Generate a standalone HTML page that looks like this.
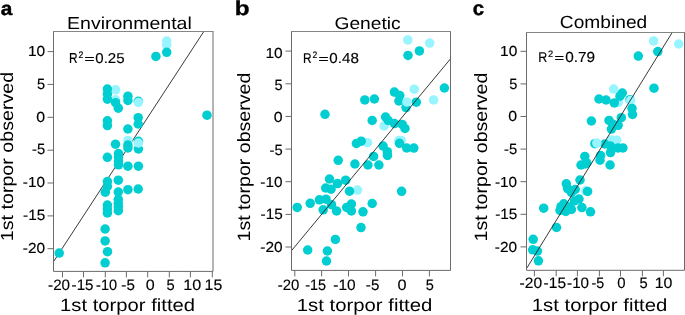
<!DOCTYPE html><html><head><meta charset="utf-8"><style>html,body{margin:0;padding:0;background:#fff;overflow:hidden}svg{display:block;will-change:transform}</style></head><body>
<svg width="685" height="315" viewBox="0 0 685 315">
<rect width="685" height="315" fill="#fff"/>
<line x1="53.5" y1="261.7" x2="203.8" y2="31.5" stroke="#222" stroke-width="0.9"/>
<circle cx="166.7" cy="41.0" r="4.75" fill="#98F5FF"/>
<circle cx="166.7" cy="45.0" r="4.75" fill="#98F5FF"/>
<circle cx="115.6" cy="89.8" r="4.75" fill="#98F5FF"/>
<circle cx="115.6" cy="99.8" r="4.75" fill="#98F5FF"/>
<circle cx="127.9" cy="140.4" r="4.75" fill="#98F5FF"/>
<circle cx="166.7" cy="52.3" r="4.75" fill="#00CED1"/>
<circle cx="155.9" cy="56.4" r="4.75" fill="#00CED1"/>
<circle cx="207.0" cy="115.2" r="4.75" fill="#00CED1"/>
<circle cx="107.4" cy="89.0" r="4.75" fill="#00CED1"/>
<circle cx="107.4" cy="94.0" r="4.75" fill="#00CED1"/>
<circle cx="107.4" cy="99.2" r="4.75" fill="#00CED1"/>
<circle cx="115.6" cy="102.7" r="4.75" fill="#00CED1"/>
<circle cx="118.3" cy="108.2" r="4.75" fill="#00CED1"/>
<circle cx="127.9" cy="96.2" r="4.75" fill="#00CED1"/>
<circle cx="127.9" cy="100.4" r="4.75" fill="#00CED1"/>
<circle cx="138.3" cy="101.3" r="4.75" fill="#00CED1"/>
<circle cx="107.4" cy="120.8" r="4.75" fill="#00CED1"/>
<circle cx="107.4" cy="125.6" r="4.75" fill="#00CED1"/>
<circle cx="138.2" cy="117.7" r="4.75" fill="#00CED1"/>
<circle cx="138.2" cy="124.0" r="4.75" fill="#00CED1"/>
<circle cx="127.9" cy="129.0" r="4.75" fill="#00CED1"/>
<circle cx="127.9" cy="145.0" r="4.75" fill="#00CED1"/>
<circle cx="127.9" cy="148.0" r="4.75" fill="#00CED1"/>
<circle cx="138.4" cy="141.3" r="4.75" fill="#00CED1"/>
<circle cx="138.4" cy="149.0" r="4.75" fill="#00CED1"/>
<circle cx="115.5" cy="144.2" r="4.75" fill="#00CED1"/>
<circle cx="118.5" cy="153.5" r="4.75" fill="#00CED1"/>
<circle cx="118.5" cy="157.0" r="4.75" fill="#00CED1"/>
<circle cx="118.5" cy="161.0" r="4.75" fill="#00CED1"/>
<circle cx="118.5" cy="164.8" r="4.75" fill="#00CED1"/>
<circle cx="107.4" cy="157.3" r="4.75" fill="#00CED1"/>
<circle cx="127.9" cy="166.2" r="4.75" fill="#00CED1"/>
<circle cx="138.4" cy="166.2" r="4.75" fill="#00CED1"/>
<circle cx="107.4" cy="181.6" r="4.75" fill="#00CED1"/>
<circle cx="107.4" cy="186.5" r="4.75" fill="#00CED1"/>
<circle cx="118.3" cy="180.2" r="4.75" fill="#00CED1"/>
<circle cx="105.3" cy="192.2" r="4.75" fill="#00CED1"/>
<circle cx="118.3" cy="192.0" r="4.75" fill="#00CED1"/>
<circle cx="127.9" cy="189.7" r="4.75" fill="#00CED1"/>
<circle cx="138.2" cy="189.0" r="4.75" fill="#00CED1"/>
<circle cx="118.3" cy="199.5" r="4.75" fill="#00CED1"/>
<circle cx="118.3" cy="203.5" r="4.75" fill="#00CED1"/>
<circle cx="118.3" cy="207.0" r="4.75" fill="#00CED1"/>
<circle cx="118.3" cy="210.7" r="4.75" fill="#00CED1"/>
<circle cx="107.4" cy="205.0" r="4.75" fill="#00CED1"/>
<circle cx="107.4" cy="209.0" r="4.75" fill="#00CED1"/>
<circle cx="107.4" cy="213.0" r="4.75" fill="#00CED1"/>
<circle cx="105.1" cy="229.0" r="4.75" fill="#00CED1"/>
<circle cx="105.1" cy="240.9" r="4.75" fill="#00CED1"/>
<circle cx="107.5" cy="251.7" r="4.75" fill="#00CED1"/>
<circle cx="105.1" cy="262.8" r="4.75" fill="#00CED1"/>
<circle cx="59.2" cy="253.1" r="4.75" fill="#00CED1"/>
<circle cx="138.4" cy="102.5" r="4.75" fill="#98F5FF"/>
<circle cx="138.4" cy="143.0" r="4.75" fill="#98F5FF"/>
<path d="M213.0,31.5V271.4H53.5V31.5" fill="none" stroke="#6b6b6b" stroke-width="1.0"/>
<path d="M53.0,31.5H213.5" fill="none" stroke="#858585" stroke-width="1.0"/>
<path d="M47.5,51.6H53.5M47.5,84.4H53.5M47.5,117.3H53.5M47.5,150.2H53.5M47.5,183.0H53.5M47.5,215.9H53.5M47.5,248.7H53.5M62.5,271.4V277.4M83.5,271.4V277.4M105.3,271.4V277.4M126.4,271.4V277.4M147.7,271.4V277.4M169.3,271.4V277.4M190.4,271.4V277.4M212.3,271.4V277.4" stroke="#6b6b6b" stroke-width="1.0"/>
<circle cx="407.8" cy="39.9" r="4.75" fill="#98F5FF"/>
<circle cx="429.7" cy="43.1" r="4.75" fill="#98F5FF"/>
<circle cx="414.2" cy="89.2" r="4.75" fill="#98F5FF"/>
<circle cx="433.6" cy="99.9" r="4.75" fill="#98F5FF"/>
<circle cx="384.1" cy="125.9" r="4.75" fill="#98F5FF"/>
<circle cx="367.5" cy="142.7" r="4.75" fill="#98F5FF"/>
<circle cx="398.8" cy="140.6" r="4.75" fill="#98F5FF"/>
<circle cx="401.2" cy="140.4" r="4.75" fill="#98F5FF"/>
<circle cx="357.5" cy="190.1" r="4.75" fill="#98F5FF"/>
<circle cx="408.0" cy="55.4" r="4.75" fill="#00CED1"/>
<circle cx="419.4" cy="50.9" r="4.75" fill="#00CED1"/>
<circle cx="444.4" cy="88.0" r="4.75" fill="#00CED1"/>
<circle cx="394.4" cy="92.1" r="4.75" fill="#00CED1"/>
<circle cx="399.8" cy="95.6" r="4.75" fill="#00CED1"/>
<circle cx="398.9" cy="101.0" r="4.75" fill="#00CED1"/>
<circle cx="416.3" cy="102.2" r="4.75" fill="#00CED1"/>
<circle cx="406.0" cy="107.6" r="4.75" fill="#00CED1"/>
<circle cx="364.8" cy="99.9" r="4.75" fill="#00CED1"/>
<circle cx="374.4" cy="99.0" r="4.75" fill="#00CED1"/>
<circle cx="325.0" cy="114.3" r="4.75" fill="#00CED1"/>
<circle cx="372.2" cy="120.5" r="4.75" fill="#00CED1"/>
<circle cx="385.6" cy="117.0" r="4.75" fill="#00CED1"/>
<circle cx="388.2" cy="120.5" r="4.75" fill="#00CED1"/>
<circle cx="394.4" cy="123.6" r="4.75" fill="#00CED1"/>
<circle cx="402.2" cy="124.4" r="4.75" fill="#00CED1"/>
<circle cx="405.0" cy="128.5" r="4.75" fill="#00CED1"/>
<circle cx="356.4" cy="143.5" r="4.75" fill="#00CED1"/>
<circle cx="361.2" cy="141.2" r="4.75" fill="#00CED1"/>
<circle cx="383.1" cy="146.0" r="4.75" fill="#00CED1"/>
<circle cx="387.3" cy="151.7" r="4.75" fill="#00CED1"/>
<circle cx="387.5" cy="155.5" r="4.75" fill="#00CED1"/>
<circle cx="399.5" cy="143.3" r="4.75" fill="#00CED1"/>
<circle cx="406.7" cy="148.0" r="4.75" fill="#00CED1"/>
<circle cx="413.8" cy="148.1" r="4.75" fill="#00CED1"/>
<circle cx="373.6" cy="156.4" r="4.75" fill="#00CED1"/>
<circle cx="338.2" cy="160.3" r="4.75" fill="#00CED1"/>
<circle cx="354.9" cy="164.0" r="4.75" fill="#00CED1"/>
<circle cx="367.9" cy="165.0" r="4.75" fill="#00CED1"/>
<circle cx="378.9" cy="165.0" r="4.75" fill="#00CED1"/>
<circle cx="329.5" cy="179.0" r="4.75" fill="#00CED1"/>
<circle cx="345.7" cy="180.2" r="4.75" fill="#00CED1"/>
<circle cx="337.5" cy="183.6" r="4.75" fill="#00CED1"/>
<circle cx="325.7" cy="188.0" r="4.75" fill="#00CED1"/>
<circle cx="331.0" cy="189.2" r="4.75" fill="#00CED1"/>
<circle cx="349.5" cy="191.2" r="4.75" fill="#00CED1"/>
<circle cx="401.6" cy="191.3" r="4.75" fill="#00CED1"/>
<circle cx="297.2" cy="207.4" r="4.75" fill="#00CED1"/>
<circle cx="310.2" cy="203.3" r="4.75" fill="#00CED1"/>
<circle cx="319.4" cy="199.8" r="4.75" fill="#00CED1"/>
<circle cx="326.0" cy="199.2" r="4.75" fill="#00CED1"/>
<circle cx="331.5" cy="204.7" r="4.75" fill="#00CED1"/>
<circle cx="323.2" cy="209.8" r="4.75" fill="#00CED1"/>
<circle cx="336.6" cy="211.0" r="4.75" fill="#00CED1"/>
<circle cx="346.7" cy="207.4" r="4.75" fill="#00CED1"/>
<circle cx="351.4" cy="204.0" r="4.75" fill="#00CED1"/>
<circle cx="351.4" cy="211.0" r="4.75" fill="#00CED1"/>
<circle cx="363.0" cy="211.8" r="4.75" fill="#00CED1"/>
<circle cx="372.2" cy="203.5" r="4.75" fill="#00CED1"/>
<circle cx="361.0" cy="227.6" r="4.75" fill="#00CED1"/>
<circle cx="335.4" cy="239.4" r="4.75" fill="#00CED1"/>
<circle cx="307.7" cy="250.0" r="4.75" fill="#00CED1"/>
<circle cx="327.4" cy="251.0" r="4.75" fill="#00CED1"/>
<circle cx="326.5" cy="261.0" r="4.75" fill="#00CED1"/>
<circle cx="406.9" cy="102.0" r="4.75" fill="#98F5FF"/>
<line x1="291.5" y1="250.7" x2="450.5" y2="58.8" stroke="#222" stroke-width="0.9"/>
<path d="M450.5,31.5V270.4H291.5V31.5" fill="none" stroke="#6b6b6b" stroke-width="1.0"/>
<path d="M291.0,31.5H451.0" fill="none" stroke="#858585" stroke-width="1.0"/>
<path d="M285.5,51.1H291.5M285.5,83.8H291.5M285.5,116.4H291.5M285.5,149.1H291.5M285.5,181.7H291.5M285.5,214.4H291.5M285.5,247.0H291.5M294.8,270.4V276.4M321.6,270.4V276.4M348.5,270.4V276.4M375.6,270.4V276.4M402.5,270.4V276.4M429.4,270.4V276.4" stroke="#6b6b6b" stroke-width="1.0"/>
<circle cx="653.6" cy="40.9" r="4.75" fill="#98F5FF"/>
<circle cx="678.7" cy="44.0" r="4.75" fill="#98F5FF"/>
<circle cx="613.7" cy="89.1" r="4.75" fill="#98F5FF"/>
<circle cx="618.1" cy="102.5" r="4.75" fill="#98F5FF"/>
<circle cx="611.4" cy="139.9" r="4.75" fill="#98F5FF"/>
<circle cx="616.6" cy="140.2" r="4.75" fill="#98F5FF"/>
<circle cx="585.8" cy="190.8" r="4.75" fill="#98F5FF"/>
<circle cx="657.8" cy="51.6" r="4.75" fill="#00CED1"/>
<circle cx="638.3" cy="56.1" r="4.75" fill="#00CED1"/>
<circle cx="654.0" cy="88.2" r="4.75" fill="#00CED1"/>
<circle cx="622.3" cy="93.0" r="4.75" fill="#00CED1"/>
<circle cx="620.0" cy="96.2" r="4.75" fill="#00CED1"/>
<circle cx="599.0" cy="99.0" r="4.75" fill="#00CED1"/>
<circle cx="606.1" cy="100.0" r="4.75" fill="#00CED1"/>
<circle cx="614.3" cy="102.9" r="4.75" fill="#00CED1"/>
<circle cx="630.0" cy="99.7" r="4.75" fill="#00CED1"/>
<circle cx="591.4" cy="121.0" r="4.75" fill="#00CED1"/>
<circle cx="609.0" cy="120.4" r="4.75" fill="#00CED1"/>
<circle cx="621.3" cy="117.7" r="4.75" fill="#00CED1"/>
<circle cx="612.8" cy="124.2" r="4.75" fill="#00CED1"/>
<circle cx="618.1" cy="125.3" r="4.75" fill="#00CED1"/>
<circle cx="611.4" cy="129.1" r="4.75" fill="#00CED1"/>
<circle cx="594.9" cy="143.7" r="4.75" fill="#00CED1"/>
<circle cx="604.8" cy="144.0" r="4.75" fill="#00CED1"/>
<circle cx="610.5" cy="146.0" r="4.75" fill="#00CED1"/>
<circle cx="618.1" cy="147.9" r="4.75" fill="#00CED1"/>
<circle cx="622.9" cy="147.9" r="4.75" fill="#00CED1"/>
<circle cx="610.5" cy="152.6" r="4.75" fill="#00CED1"/>
<circle cx="600.6" cy="155.5" r="4.75" fill="#00CED1"/>
<circle cx="600.0" cy="160.2" r="4.75" fill="#00CED1"/>
<circle cx="584.8" cy="156.4" r="4.75" fill="#00CED1"/>
<circle cx="585.3" cy="164.0" r="4.75" fill="#00CED1"/>
<circle cx="581.0" cy="165.0" r="4.75" fill="#00CED1"/>
<circle cx="586.7" cy="162.9" r="4.75" fill="#00CED1"/>
<circle cx="610.1" cy="165.0" r="4.75" fill="#00CED1"/>
<circle cx="580.0" cy="180.0" r="4.75" fill="#00CED1"/>
<circle cx="566.3" cy="183.8" r="4.75" fill="#00CED1"/>
<circle cx="567.6" cy="188.6" r="4.75" fill="#00CED1"/>
<circle cx="575.2" cy="189.5" r="4.75" fill="#00CED1"/>
<circle cx="571.4" cy="192.4" r="4.75" fill="#00CED1"/>
<circle cx="587.6" cy="191.4" r="4.75" fill="#00CED1"/>
<circle cx="579.0" cy="199.0" r="4.75" fill="#00CED1"/>
<circle cx="574.3" cy="201.0" r="4.75" fill="#00CED1"/>
<circle cx="563.8" cy="203.8" r="4.75" fill="#00CED1"/>
<circle cx="561.0" cy="206.7" r="4.75" fill="#00CED1"/>
<circle cx="567.6" cy="206.7" r="4.75" fill="#00CED1"/>
<circle cx="571.4" cy="209.5" r="4.75" fill="#00CED1"/>
<circle cx="560.0" cy="210.5" r="4.75" fill="#00CED1"/>
<circle cx="581.9" cy="207.6" r="4.75" fill="#00CED1"/>
<circle cx="590.5" cy="211.8" r="4.75" fill="#00CED1"/>
<circle cx="543.7" cy="208.2" r="4.75" fill="#00CED1"/>
<circle cx="565.7" cy="211.4" r="4.75" fill="#00CED1"/>
<circle cx="556.5" cy="227.5" r="4.75" fill="#00CED1"/>
<circle cx="533.2" cy="239.3" r="4.75" fill="#00CED1"/>
<circle cx="532.7" cy="249.8" r="4.75" fill="#00CED1"/>
<circle cx="537.4" cy="251.1" r="4.75" fill="#00CED1"/>
<circle cx="538.4" cy="260.8" r="4.75" fill="#00CED1"/>
<circle cx="596.8" cy="143.1" r="4.75" fill="#98F5FF"/>
<circle cx="630.6" cy="100.6" r="4.75" fill="#98F5FF"/>
<circle cx="632.0" cy="108.4" r="4.75" fill="#00CED1"/>
<circle cx="632.5" cy="114.5" r="4.75" fill="#00CED1"/>
<line x1="526.5" y1="268.6" x2="672.2" y2="32.5" stroke="#222" stroke-width="0.9"/>
<path d="M684.5,32.5V270.3H526.5V32.5" fill="none" stroke="#6b6b6b" stroke-width="1.0"/>
<path d="M526.0,32.5H685.0" fill="none" stroke="#858585" stroke-width="1.0"/>
<path d="M520.5,51.3H526.5M520.5,83.9H526.5M520.5,116.5H526.5M520.5,149.1H526.5M520.5,181.7H526.5M520.5,214.3H526.5M520.5,246.9H526.5M534.4,270.3V276.3M556.2,270.3V276.3M577.4,270.3V276.3M599.4,270.3V276.3M620.5,270.3V276.3M642.4,270.3V276.3M663.4,270.3V276.3" stroke="#6b6b6b" stroke-width="1.0"/>
<g font-family="Liberation Sans" fill="#000" text-rendering="geometricPrecision">
<text transform="matrix(0.15219 0 0 0.15000 48.07 290.08)" font-size="100" stroke="#000" stroke-width="0.99">-20</text>
<text transform="matrix(0.15184 0 0 0.15214 71.57 290.07)" font-size="100" stroke="#000" stroke-width="0.99">-15</text>
<text transform="matrix(0.14562 0 0 0.15000 96.09 290.08)" font-size="100" stroke="#000" stroke-width="1.01">-10</text>
<text transform="matrix(0.15123 0 0 0.15214 121.37 290.07)" font-size="100" stroke="#000" stroke-width="0.99">-5</text>
<text transform="matrix(0.16146 0 0 0.15000 145.73 290.08)" font-size="100" stroke="#000" stroke-width="0.96">0</text>
<text transform="matrix(0.14787 0 0 0.15214 166.58 290.07)" font-size="100" stroke="#000" stroke-width="1.00">5</text>
<text transform="matrix(0.16212 0 0 0.15000 183.28 290.08)" font-size="100" stroke="#000" stroke-width="0.96">10</text>
<text transform="matrix(0.15909 0 0 0.15214 204.60 290.07)" font-size="100" stroke="#000" stroke-width="0.96">15</text>
<text transform="matrix(0.15505 0 0 0.14577 27.93 56.00)" font-size="100" stroke="#000" stroke-width="1.00">10</text>
<text transform="matrix(0.14574 0 0 0.14786 37.09 88.81)" font-size="100" stroke="#000" stroke-width="1.02">5</text>
<text transform="matrix(0.15938 0 0 0.14577 36.24 121.63)" font-size="100" stroke="#000" stroke-width="0.98">0</text>
<text transform="matrix(0.14753 0 0 0.14786 31.98 154.44)" font-size="100" stroke="#000" stroke-width="1.02">-5</text>
<text transform="matrix(0.15365 0 0 0.14577 22.86 187.26)" font-size="100" stroke="#000" stroke-width="1.00">-10</text>
<text transform="matrix(0.15331 0 0 0.14786 23.06 220.07)" font-size="100" stroke="#000" stroke-width="1.00">-15</text>
<text transform="matrix(0.15438 0 0 0.14577 22.76 252.89)" font-size="100" stroke="#000" stroke-width="1.00">-20</text>
<text transform="matrix(0.14927 0 0 0.15000 277.78 290.08)" font-size="100" stroke="#000" stroke-width="1.00">-20</text>
<text transform="matrix(0.14449 0 0 0.15214 305.20 290.07)" font-size="100" stroke="#000" stroke-width="1.01">-15</text>
<text transform="matrix(0.15438 0 0 0.15000 333.36 290.08)" font-size="100" stroke="#000" stroke-width="0.99">-10</text>
<text transform="matrix(0.15123 0 0 0.15214 365.87 290.07)" font-size="100" stroke="#000" stroke-width="0.99">-5</text>
<text transform="matrix(0.16354 0 0 0.15000 397.52 290.08)" font-size="100" stroke="#000" stroke-width="0.96">0</text>
<text transform="matrix(0.14574 0 0 0.15214 425.69 290.07)" font-size="100" stroke="#000" stroke-width="1.01">5</text>
<text transform="matrix(0.15505 0 0 0.14577 265.43 57.51)" font-size="100" stroke="#000" stroke-width="1.00">10</text>
<text transform="matrix(0.14574 0 0 0.14786 274.59 89.87)" font-size="100" stroke="#000" stroke-width="1.02">5</text>
<text transform="matrix(0.15938 0 0 0.14577 273.74 122.23)" font-size="100" stroke="#000" stroke-width="0.98">0</text>
<text transform="matrix(0.14753 0 0 0.14786 269.48 154.59)" font-size="100" stroke="#000" stroke-width="1.02">-5</text>
<text transform="matrix(0.15365 0 0 0.14577 260.36 186.95)" font-size="100" stroke="#000" stroke-width="1.00">-10</text>
<text transform="matrix(0.15331 0 0 0.14786 260.56 219.31)" font-size="100" stroke="#000" stroke-width="1.00">-15</text>
<text transform="matrix(0.15438 0 0 0.14577 260.26 251.67)" font-size="100" stroke="#000" stroke-width="1.00">-20</text>
<text transform="matrix(0.15584 0 0 0.15000 519.55 288.48)" font-size="100" stroke="#000" stroke-width="0.98">-20</text>
<text transform="matrix(0.15551 0 0 0.15214 543.55 288.47)" font-size="100" stroke="#000" stroke-width="0.98">-15</text>
<text transform="matrix(0.15219 0 0 0.15000 567.07 288.48)" font-size="100" stroke="#000" stroke-width="0.99">-10</text>
<text transform="matrix(0.14259 0 0 0.15214 591.40 288.47)" font-size="100" stroke="#000" stroke-width="1.02">-5</text>
<text transform="matrix(0.14896 0 0 0.15000 617.28 288.48)" font-size="100" stroke="#000" stroke-width="1.00">0</text>
<text transform="matrix(0.14787 0 0 0.15214 639.38 288.47)" font-size="100" stroke="#000" stroke-width="1.00">5</text>
<text transform="matrix(0.15909 0 0 0.15000 654.70 288.48)" font-size="100" stroke="#000" stroke-width="0.97">10</text>
<text transform="matrix(0.15505 0 0 0.14577 500.03 55.78)" font-size="100" stroke="#000" stroke-width="1.00">10</text>
<text transform="matrix(0.14574 0 0 0.14786 509.19 88.50)" font-size="100" stroke="#000" stroke-width="1.02">5</text>
<text transform="matrix(0.15938 0 0 0.14577 508.34 121.23)" font-size="100" stroke="#000" stroke-width="0.98">0</text>
<text transform="matrix(0.14753 0 0 0.14786 504.08 153.95)" font-size="100" stroke="#000" stroke-width="1.02">-5</text>
<text transform="matrix(0.15365 0 0 0.14577 494.96 186.68)" font-size="100" stroke="#000" stroke-width="1.00">-10</text>
<text transform="matrix(0.15331 0 0 0.14786 495.16 219.40)" font-size="100" stroke="#000" stroke-width="1.00">-15</text>
<text transform="matrix(0.15438 0 0 0.14577 494.86 252.13)" font-size="100" stroke="#000" stroke-width="1.00">-20</text>
<text transform="matrix(0.19520 0 0 0.17297 67.04 28.53)" font-size="100">Environmental</text>
<text transform="matrix(0.19228 0 0 0.17027 334.44 28.53)" font-size="100">Genetic</text>
<text transform="matrix(0.19167 0 0 0.17568 559.84 28.32)" font-size="100">Combined</text>
<text transform="matrix(0.20849 0 0 0.19364 0.70 15.18)" font-size="100" font-weight="bold" stroke="#000" stroke-width="2.24">a</text>
<text transform="matrix(0.20417 0 0 0.20000 472.68 15.40)" font-size="100" font-weight="bold" stroke="#000" stroke-width="1.98">c</text>
<text transform="matrix(0.11949 0 0 0.14420 68.92 63.23)" font-size="100" stroke="#000" stroke-width="1.14">R</text>
<text transform="matrix(0.08587 0 0 0.09500 78.45 57.62)" font-size="100" stroke="#000" stroke-width="1.66">2</text>
<text transform="matrix(0.17143 0 0 0.12188 84.49 63.02)" font-size="100" stroke="#000" stroke-width="2.05">=</text>
<text transform="matrix(0.15027 0 0 0.14296 95.27 63.18)" font-size="100" stroke="#000" stroke-width="1.02">0.25</text>
<text transform="matrix(0.11949 0 0 0.14130 302.92 63.03)" font-size="100" stroke="#000" stroke-width="1.15">R</text>
<text transform="matrix(0.08587 0 0 0.09357 312.45 57.53)" font-size="100" stroke="#000" stroke-width="1.67">2</text>
<text transform="matrix(0.17143 0 0 0.12188 318.49 63.02)" font-size="100" stroke="#000" stroke-width="2.05">=</text>
<text transform="matrix(0.15134 0 0 0.14437 329.37 63.18)" font-size="100" stroke="#000" stroke-width="1.01">0.48</text>
<text transform="matrix(0.12458 0 0 0.14130 538.28 61.73)" font-size="100" stroke="#000" stroke-width="1.13">R</text>
<text transform="matrix(0.09239 0 0 0.09357 547.91 56.53)" font-size="100" stroke="#000" stroke-width="1.61">2</text>
<text transform="matrix(0.16327 0 0 0.12187 554.43 61.82)" font-size="100" stroke="#000" stroke-width="2.10">=</text>
<text transform="matrix(0.15296 0 0 0.14577 565.16 61.78)" font-size="100" stroke="#000" stroke-width="1.00">0.79</text>
<text transform="matrix(0.24200 0 0 0.20182 234.71 15.10)" font-size="100" font-weight="bold" stroke="#000" stroke-width="1.80">b</text>
<text transform="matrix(0.20230 0 0 0.17671 60.08 311.10)" font-size="100">1st torpor fitted</text>
<text transform="matrix(0.20322 0 0 0.17534 296.77 311.00)" font-size="100">1st torpor fitted</text>
<text transform="matrix(0.20322 0 0 0.17671 531.77 311.30)" font-size="100">1st torpor fitted</text>
<text transform="matrix(0 -0.19646 0.17536 0 13.00 241.17)" font-size="100">1st torpor observed</text>
<text transform="matrix(0 -0.19599 0.17826 0 249.80 241.47)" font-size="100">1st torpor observed</text>
<text transform="matrix(0 -0.19599 0.17826 0 486.70 241.47)" font-size="100">1st torpor observed</text>
</g>
</svg></body></html>
